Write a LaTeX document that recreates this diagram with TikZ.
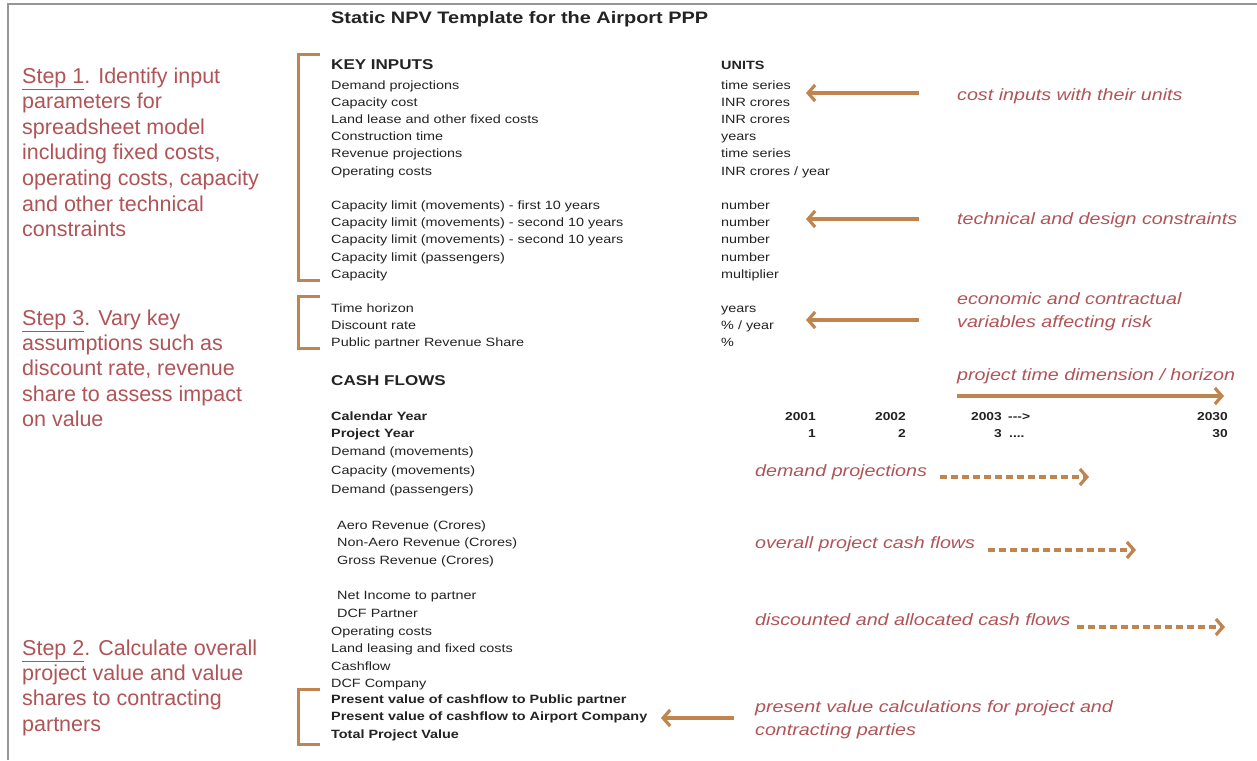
\documentclass[tikz,border=0pt]{standalone}
\usepackage{fontspec}
\setmainfont{Liberation Sans}[FakeStretch=1.2]
\newfontfamily\stepfont{Liberation Sans}
\usetikzlibrary{arrows.meta}
\definecolor{brk}{RGB}{192,132,78}
\definecolor{lab}{RGB}{176,84,88}
\definecolor{frm}{RGB}{150,150,150}
\definecolor{txt}{RGB}{35,35,35}
\begin{document}
\begin{tikzpicture}[x=1pt,y=-1pt,
  body/.style={anchor=base west,inner sep=0pt,text=txt,font=\fontsize{12}{14}\selectfont},
  bodyb/.style={anchor=base west,inner sep=0pt,text=txt,font=\fontsize{12}{14}\selectfont\bfseries},
  numb/.style={anchor=base east,inner sep=0pt,text=txt,font=\fontsize{11.5}{14}\selectfont\bfseries},
  head/.style={anchor=base west,inner sep=0pt,text=txt,font=\fontsize{14.2}{16}\selectfont\bfseries},
  steptxt/.style={anchor=base west,inner sep=0pt,text=lab,font=\stepfont\fontsize{21.5}{25}\selectfont},
  note/.style={anchor=base west,inner sep=0pt,text=lab,font=\fontsize{16.4}{20}\selectfont\itshape},
  brace/.style={draw=brk,line width=3pt},
  arr/.style={draw=brk,line width=3.2pt,-{Straight Barb[length=7pt,width=16pt]}},
  darr/.style={arr,dash pattern=on 7pt off 4pt}]
\useasboundingbox (0,0) rectangle (1257,760);
\fill[white] (0,0) rectangle (1257,760);
\draw[frm,line width=2pt] (8,760) -- (8,4.5) -- (1257,4.5);

% title
\node[anchor=base west,inner sep=0pt,text=txt,font=\fontsize{16.6}{20}\selectfont\bfseries] (title) at (331,24) {Static NPV Template for the Airport PPP};

% step texts
\foreach \t [count=\i] in {{\underline{Step 1}. Identify input},{parameters for},{spreadsheet model},{including fixed costs,},{operating costs, capacity},{and other technical},{constraints}}
  \node[steptxt] (sa\i) at (22,{83+25.6*(\i-1)}) {\t};
\foreach \t [count=\i] in {{\underline{Step 3}. Vary key},{assumptions such as},{discount rate, revenue},{share to assess impact},{on value}}
  \node[steptxt] (sc\i) at (22,{325+25.4*(\i-1)}) {\t};
\foreach \t [count=\i] in {{\underline{Step 2}. Calculate overall},{project value and value},{shares to contracting},{partners}}
  \node[steptxt] (sb\i) at (22,{655+25.4*(\i-1)}) {\t};

% key inputs
\node[head] (keyin) at (331,70) {KEY INPUTS};
\node[bodyb] (units) at (721,70) {UNITS};
\foreach \t/\u [count=\i] in {{Demand projections}/{time series},{Capacity cost}/{INR crores},{Land lease and other fixed costs}/{INR crores},{Construction time}/{years},{Revenue projections}/{time series},{Operating costs}/{INR crores / year}}
{ \node[body] (ka\i) at (331,{89+17.2*(\i-1)}) {\t};
  \node[body] (ua\i) at (721,{89+17.2*(\i-1)}) {\u}; }
\foreach \t/\u [count=\i] in {{Capacity limit (movements) - first 10 years}/{number},{Capacity limit (movements) - second 10 years}/{number},{Capacity limit (movements) - second 10 years}/{number},{Capacity limit (passengers)}/{number},{Capacity}/{multiplier}}
{ \node[body] (kb\i) at (331,{209.5+17.2*(\i-1)}) {\t};
  \node[body] (ub\i) at (721,{209.5+17.2*(\i-1)}) {\u}; }
\foreach \t/\u [count=\i] in {{Time horizon}/{years},{Discount rate}/{\% / year},{Public partner Revenue Share}/{\%}}
{ \node[body] (kc\i) at (331,{312+17.2*(\i-1)}) {\t};
  \node[body] (uc\i) at (721,{312+17.2*(\i-1)}) {\u}; }

% brackets
\draw[brace] (320,55) -- (298,55) -- (298,280) -- (320,280);
\draw[brace] (320,296) -- (298,296) -- (298,348) -- (320,348);
\draw[brace] (320,689) -- (298,689) -- (298,744) -- (320,744);

% cash flows
\node[head] (cash) at (331,385) {CASH FLOWS};
\node[bodyb] (cal) at (331,420.5) {Calendar Year};
\node[bodyb] (pyr) at (331,437.5) {Project Year};
\node[body] (dm) at (331,455.5) {Demand (movements)};
\node[body] (cm) at (331,474) {Capacity (movements)};
\node[body] (dp) at (331,493) {Demand (passengers)};
\node[body] (ar) at (337,529) {Aero Revenue (Crores)};
\node[body] (nar) at (337,546.5) {Non-Aero Revenue (Crores)};
\node[body] (gr) at (337,564) {Gross Revenue (Crores)};
\node[body] (ni) at (337,599) {Net Income to partner};
\node[body] (dcfp) at (337,617) {DCF Partner};
\node[body] (oc) at (331,635.5) {Operating costs};
\node[body] (ll) at (331,652.8) {Land leasing and fixed costs};
\node[body] (cf) at (331,670) {Cashflow};
\node[body] (dcfc) at (331,687) {DCF Company};
\node[bodyb] (pvp) at (331,703.5) {Present value of cashflow to Public partner};
\node[bodyb] (pva) at (331,720.7) {Present value of cashflow to Airport Company};
\node[bodyb] (tpv) at (331,738) {Total Project Value};

% years
\node[numb] (y1) at (816,420.5) {2001};
\node[numb] (y2) at (906,420.5) {2002};
\node[numb] (y3) at (1002,420.5) {2003};
\node[anchor=base west,inner sep=0pt,text=txt,font=\fontsize{11.5}{14}\selectfont\bfseries] (ya) at (1008,420.5) {-{}-{}->};
\node[numb] (y30) at (1228,420.5) {2030};
\node[numb] (p1) at (816,437.5) {1};
\node[numb] (p2) at (906,437.5) {2};
\node[numb] (p3) at (1002,437.5) {3};
\node[anchor=base west,inner sep=0pt,text=txt,font=\fontsize{11.5}{14}\selectfont\bfseries] (pd) at (1009,437.5) {....};
\node[numb] (p30) at (1228,437.5) {30};

% notes
\node[note] (n1) at (957,100.5) {cost inputs with their units};
\node[note] (n2) at (957,224.5) {technical and design constraints};
\node[note] (n3a) at (957,304.5) {economic and contractual};
\node[note] (n3b) at (957,327.5) {variables affecting risk};
\node[note] (n4) at (957,380.5) {project time dimension / horizon};
\node[note] (n5) at (755,476.5) {demand projections};
\node[note] (n6) at (755,548.5) {overall project cash flows};
\node[note] (n7) at (755,625.5) {discounted and allocated cash flows};
\node[note] (n8a) at (755,712.5) {present value calculations for project and};
\node[note] (n8b) at (755,735.5) {contracting parties};

% arrows
\coordinate (a1s) at (919,93);  \coordinate (a1e) at (806,93);
\coordinate (a2s) at (919,219); \coordinate (a2e) at (806,219);
\coordinate (a3s) at (919,320); \coordinate (a3e) at (806,320);
\coordinate (a4s) at (957,396); \coordinate (a4e) at (1224,396);
\coordinate (a5s) at (940,477); \coordinate (a5e) at (1089,477);
\coordinate (a6s) at (988,550); \coordinate (a6e) at (1136,550);
\coordinate (a7s) at (1077,627); \coordinate (a7e) at (1225,627);
\coordinate (a8s) at (734,718); \coordinate (a8e) at (661,718);
\draw[arr] (a1s) -- (a1e);
\draw[arr] (a2s) -- (a2e);
\draw[arr] (a3s) -- (a3e);
\draw[arr] (a4s) -- (a4e);
\draw[darr] (a5s) -- (a5e);
\draw[darr] (a6s) -- (a6e);
\draw[darr] (a7s) -- (a7e);
\draw[arr] (a8s) -- (a8e);
\end{tikzpicture}
\end{document}
